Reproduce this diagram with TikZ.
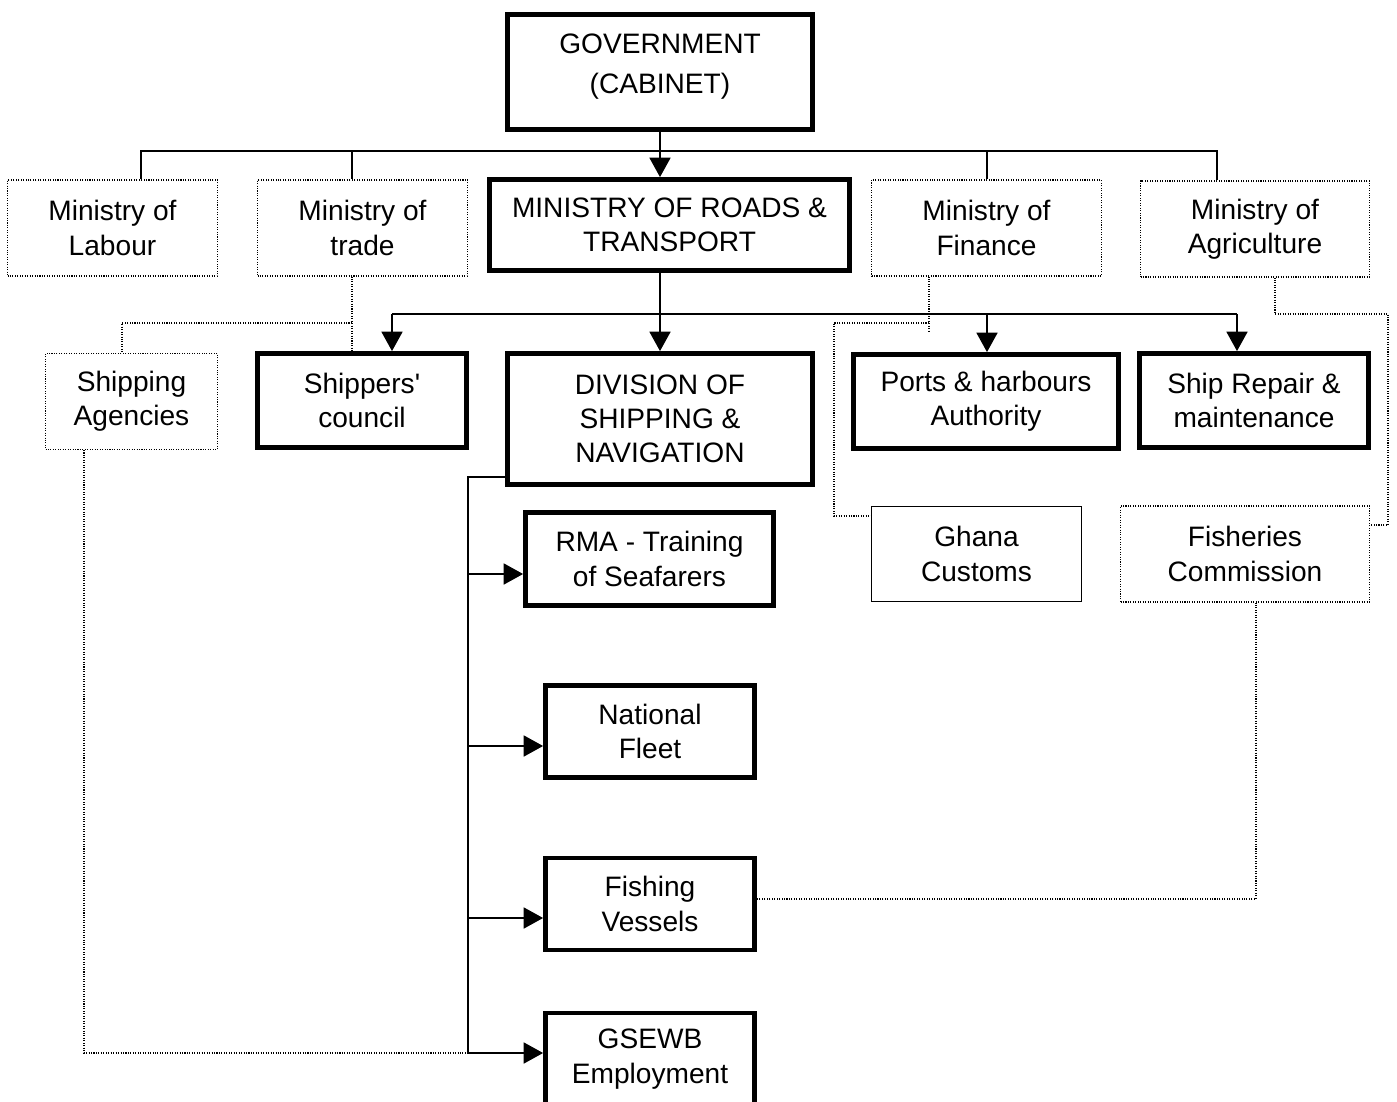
\documentclass[tikz,border=0pt]{standalone}
\usepackage{fontspec}
\setmainfont{Liberation Sans}
\usetikzlibrary{arrows.meta,positioning}

\begin{document}
\begin{tikzpicture}
[x=0.02cm, y=-0.02cm, >={Triangle[length=11pt,width=12pt]},
font=\fontsize{16}{19.5}\selectfont,
mainbox/.style={rectangle, draw, line width=2.8pt, align=center, inner sep=2pt, minimum height=1.88cm},
otherbox/.style={rectangle, draw, line width=0.6pt, dash pattern=on 0.6pt off 0.8pt, align=center, inner sep=2pt, minimum height=1.92cm},
plainbox/.style={rectangle, draw, line width=0.8pt, align=center, inner sep=2pt, minimum height=1.9cm},
link/.style={line width=0.6pt},
dotlink/.style={line width=0.6pt, dash pattern=on 0.6pt off 0.8pt}]

\useasboundingbox (0,0) rectangle (1397,1102);
\clip (0,0) rectangle (1397,1102);

% top level
\node[mainbox, minimum width=6.1cm, minimum height=2.3cm, font=\fontsize{16}{22.7}\selectfont] (gov) at (660,72) {GOVERNMENT\\(CABINET)\\[-13pt]\mbox{}};

% ministries
\node[otherbox, minimum width=4.2cm] (labour) at (112.5,228) {Ministry of\\Labour};
\node[otherbox, minimum width=4.2cm] (trade) at (362.5,228) {Ministry of\\trade};
\node[mainbox, minimum width=7.2cm, minimum height=1.82cm] (roads) at (669.5,225) {MINISTRY OF ROADS \&\\TRANSPORT};
\node[otherbox, minimum width=4.6cm] (finance) at (986.5,228) {Ministry of\\Finance};
\node[otherbox, minimum width=4.58cm] (agri) at (1255,229) {Ministry of\\Agriculture};

% agencies
\node[otherbox, minimum width=3.44cm] (agencies) at (131.5,401.5) {Shipping\\Agencies};
\node[mainbox, minimum width=4.18cm] (shippers) at (362,400.5) {Shippers\textquotesingle\\council};
\node[mainbox, minimum width=6.1cm, minimum height=2.62cm] (division) at (660,419) {DIVISION OF\\SHIPPING \&\\NAVIGATION};
\node[mainbox, minimum width=5.3cm] (ports) at (986,401.5) {Ports \& harbours\\Authority};
\node[mainbox, minimum width=4.58cm] (repair) at (1254,400.5) {Ship Repair \&\\maintenance};
\node[plainbox, minimum width=4.2cm] (customs) at (976.5,554) {Ghana\\Customs};
\node[otherbox, minimum width=4.98cm] (fisheries) at (1245,554) {Fisheries\\Commission};

% under the division
\node[mainbox, minimum width=4.96cm, minimum height=1.86cm] (rma) at (649.5,559) {RMA - Training\\of Seafarers};
\node[mainbox, minimum width=4.18cm, minimum height=1.84cm] (fleet) at (650,731.5) {National\\Fleet};
\node[mainbox, minimum width=4.18cm, minimum height=1.84cm] (vessels) at (650,904) {Fishing\\Vessels};
\node[mainbox, minimum width=4.18cm, minimum height=1.84cm] (gsewb) at (650,1059) {GSEWB\\Employment};

% government to ministries
\coordinate (busL) at (141,151);
\coordinate (busT) at (352,151);
\coordinate (busF) at (987,151);
\coordinate (busA) at (1217,151);
\draw[link, ->] (gov.south) -- (gov.south |- roads.north);
\draw[link] (busL |- labour.north) -- (busL) -- (busA) -- (busA |- agri.north);
\draw[link] (busT) -- (busT |- trade.north);
\draw[link] (busF) -- (busF |- finance.north);

% ministry of roads to its bodies
\coordinate (busS) at (392,314);
\coordinate (busP) at (987,314);
\coordinate (busR) at (1237,314);
\draw[link, ->] (division.north |- roads.south) -- (division.north);
\draw[link] (busS) -- (busR);
\draw[link, ->] (busS) -- (busS |- shippers.north);
\draw[link, ->] (busP) -- (busP |- ports.north);
\draw[link, ->] (busR) -- (busR |- repair.north);

% division spine
\coordinate (spineT) at (468,477);
\coordinate (spineA) at (468,574);
\coordinate (spineB) at (468,746);
\coordinate (spineC) at (468,918);
\coordinate (spineE) at (468,1053);
\draw[link] (spineT -| division.west) -- (spineT) -- (spineE);
\draw[link, ->] (spineA) -- (spineA -| rma.west);
\draw[link, ->] (spineB) -- (spineB -| fleet.west);
\draw[link, ->] (spineC) -- (spineC -| vessels.west);
\draw[link, ->] (spineE) -- (spineE -| gsewb.west);

% dotted links
\coordinate (tradeknee) at (352,323);
\coordinate (agencyknee) at (122,323);
\draw[dotlink] (busT |- trade.south) -- (busT |- shippers.north);
\draw[dotlink] (tradeknee) -- (agencyknee) -- (agencyknee |- agencies.north);
\coordinate (agencyfoot) at (84,1053);
\draw[dotlink] (agencyfoot |- agencies.south) -- (agencyfoot) -- (spineE);

\coordinate (finknee) at (929,323);
\coordinate (finend) at (929,333);
\coordinate (custknee) at (834,323);
\coordinate (custfoot) at (834,516);
\draw[dotlink] (finknee |- finance.south) -- (finend);
\draw[dotlink] (finknee) -- (custknee) -- (custfoot) -- (custfoot -| customs.west);

\coordinate (agriknee) at (1275,314);
\coordinate (agriside) at (1388,314);
\coordinate (agrifoot) at (1388,525);
\draw[dotlink] (agriknee |- agri.south) -- (agriknee) -- (agriside) -- (agrifoot) -- (agrifoot -| fisheries.east);

\coordinate (fishknee) at (1256,899);
\draw[dotlink] (fishknee |- fisheries.south) -- (fishknee) -- (fishknee -| vessels.east);
\end{tikzpicture}
\end{document}
